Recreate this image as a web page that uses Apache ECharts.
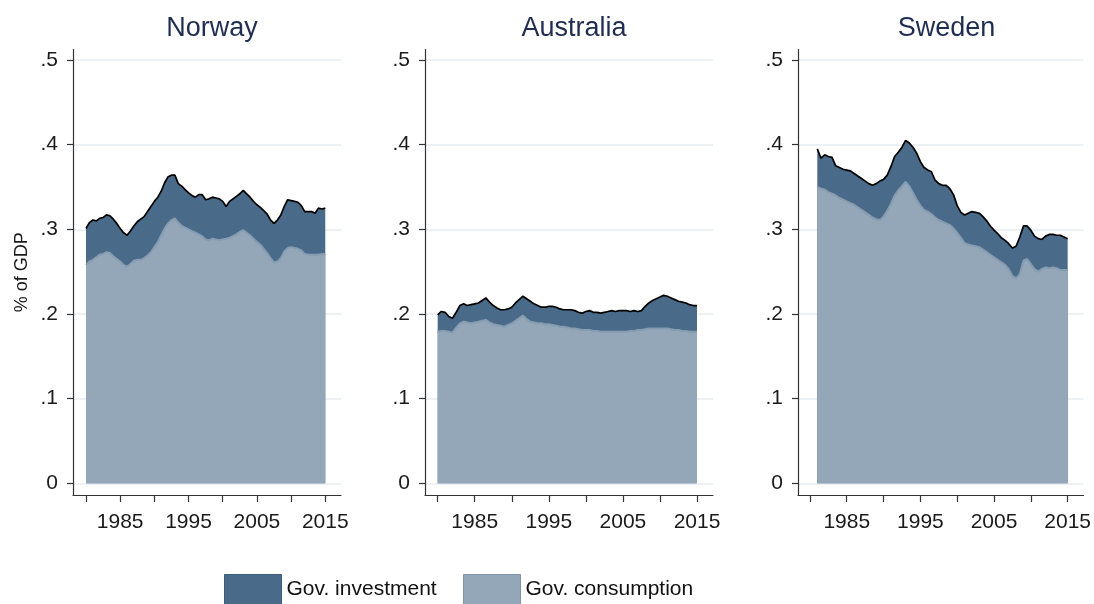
<!DOCTYPE html>
<html>
<head>
<meta charset="utf-8">
<script src="https://cdn.jsdelivr.net/npm/echarts@6/dist/echarts.min.js"></script>
<style>
html,body{margin:0;padding:0;background:#fff}
#main{width:1094px;height:604px}
</style>
</head>
<body>
<div id="main"></div>
<script>
// tick values
var tickYears = [1980, 1985, 1990, 1995, 2000, 2005, 2010, 2015];
var labelYears = [1985, 1995, 2005, 2015];
var yTicks = [0, 0.1, 0.2, 0.3, 0.4, 0.5];

// half-year observation points
var years1980 = [1980,1980.5,1981,1981.5,1982,1982.5,1983,1983.5,1984,1984.5,1985,1985.5,1986,1986.5,1987,1987.5,1988,1988.5,1989,1989.5,1990,1990.5,1991,1991.5,1992,1992.5,1993,1993.5,1994,1994.5,1995,1995.5,1996,1996.5,1997,1997.5,1998,1998.5,1999,1999.5,2000,2000.5,2001,2001.5,2002,2002.5,2003,2003.5,2004,2004.5,2005,2005.5,2006,2006.5,2007,2007.5,2008,2008.5,2009,2009.5,2010,2010.5,2011,2011.5,2012,2012.5,2013,2013.5,2014,2014.5,2015];
var years1981 = [1981,1981.5,1982,1982.5,1983,1983.5,1984,1984.5,1985,1985.5,1986,1986.5,1987,1987.5,1988,1988.5,1989,1989.5,1990,1990.5,1991,1991.5,1992,1992.5,1993,1993.5,1994,1994.5,1995,1995.5,1996,1996.5,1997,1997.5,1998,1998.5,1999,1999.5,2000,2000.5,2001,2001.5,2002,2002.5,2003,2003.5,2004,2004.5,2005,2005.5,2006,2006.5,2007,2007.5,2008,2008.5,2009,2009.5,2010,2010.5,2011,2011.5,2012,2012.5,2013,2013.5,2014,2014.5,2015];

// total spending (consumption + investment), share of GDP
var norwayTotal = [0.301,0.308,0.311,0.310,0.313,0.314,0.317,0.316,0.312,0.307,
  0.301,0.296,0.293,0.298,0.304,0.309,0.312,0.315,0.321,0.327,
  0.333,0.338,0.345,0.355,0.362,0.364,0.364,0.354,0.351,0.347,
  0.343,0.340,0.338,0.341,0.341,0.335,0.336,0.338,0.337,0.336,
  0.333,0.327,0.333,0.336,0.339,0.342,0.346,0.342,0.338,0.333,
  0.329,0.326,0.322,0.318,0.311,0.307,0.311,0.317,0.327,0.335,
  0.334,0.333,0.332,0.328,0.321,0.321,0.321,0.319,0.325,0.324,0.325];
var norwayCons = [0.258,0.262,0.264,0.267,0.270,0.271,0.273,0.272,0.268,0.265,
  0.262,0.258,0.256,0.259,0.263,0.264,0.264,0.266,0.269,0.273,
  0.279,0.285,0.293,0.301,0.307,0.311,0.313,0.308,0.304,0.302,
  0.300,0.298,0.296,0.294,0.292,0.288,0.287,0.289,0.288,0.287,
  0.288,0.289,0.290,0.292,0.294,0.297,0.299,0.296,0.293,0.289,
  0.285,0.282,0.277,0.272,0.266,0.261,0.262,0.266,0.274,0.278,
  0.279,0.278,0.277,0.275,0.271,0.270,0.270,0.270,0.270,0.271,0.271];

var australiaTotal = [0.199,0.203,0.202,0.197,0.195,0.202,0.210,0.212,0.210,0.211,
  0.212,0.213,0.216,0.219,0.214,0.210,0.207,0.205,0.205,0.206,
  0.208,0.213,0.217,0.221,0.218,0.215,0.212,0.210,0.208,0.208,
  0.209,0.209,0.208,0.206,0.205,0.205,0.205,0.204,0.202,0.201,
  0.203,0.204,0.202,0.202,0.201,0.202,0.203,0.204,0.203,0.204,
  0.204,0.204,0.203,0.204,0.203,0.204,0.209,0.213,0.216,0.218,
  0.220,0.222,0.221,0.219,0.217,0.215,0.214,0.213,0.211,0.210,0.210];
var australiaCons = [0.179,0.180,0.180,0.179,0.178,0.184,0.189,0.191,0.190,0.189,
  0.190,0.191,0.192,0.193,0.190,0.188,0.187,0.186,0.185,0.187,
  0.189,0.192,0.195,0.198,0.194,0.191,0.190,0.189,0.189,0.188,
  0.188,0.187,0.186,0.185,0.185,0.184,0.183,0.183,0.182,0.181,
  0.181,0.181,0.180,0.180,0.179,0.179,0.179,0.179,0.179,0.179,
  0.179,0.179,0.180,0.180,0.181,0.181,0.182,0.183,0.183,0.183,
  0.183,0.183,0.183,0.182,0.181,0.181,0.180,0.180,0.179,0.179,0.179];

var swedenTotal = [0.395,0.384,0.388,0.386,0.385,0.375,0.373,0.371,0.370,0.369,
  0.366,0.363,0.360,0.357,0.354,0.352,0.354,0.357,0.359,0.364,
  0.374,0.386,0.391,0.397,0.405,0.402,0.397,0.390,0.380,0.373,
  0.370,0.368,0.358,0.354,0.352,0.352,0.348,0.341,0.328,0.320,
  0.317,0.319,0.321,0.320,0.319,0.315,0.310,0.304,0.299,0.295,
  0.290,0.287,0.283,0.278,0.280,0.291,0.304,0.304,0.299,0.292,
  0.289,0.288,0.292,0.294,0.294,0.293,0.293,0.291,0.289];
var swedenCons = [0.350,0.348,0.347,0.344,0.342,0.340,0.337,0.335,0.333,0.331,
  0.329,0.326,0.323,0.320,0.317,0.314,0.312,0.311,0.315,0.322,
  0.330,0.340,0.346,0.351,0.356,0.351,0.343,0.335,0.328,0.323,
  0.321,0.318,0.314,0.311,0.309,0.307,0.305,0.301,0.296,0.290,
  0.284,0.282,0.281,0.280,0.279,0.276,0.273,0.270,0.267,0.264,
  0.261,0.258,0.253,0.245,0.242,0.247,0.263,0.265,0.259,0.253,
  0.250,0.253,0.255,0.254,0.255,0.254,0.252,0.252,0.252];

var FONT = '"Liberation Sans", Arial, sans-serif';
var INV_COLOR = '#4a6a89';
var CONS_COLOR = '#94a7b8';
var AXIS_COLOR = '#333';

// panel layout (pixels) and x range
var panels = [
  {title: 'Norway', years: years1980, total: norwayTotal, cons: norwayCons, left: 73, right: 341, xMin: 1978.1, xMax: 2017.3},
  {title: 'Australia', years: years1980, total: australiaTotal, cons: australiaCons, left: 425, right: 713, xMin: 1978.29, xMax: 2017.16},
  {title: 'Sweden', years: years1981, total: swedenTotal, cons: swedenCons, left: 798, right: 1085, xMin: 1978.38, xMax: 2017.16}
];

function pairs(xs, ys) {
  var out = [];
  for (var i = 0; i < xs.length; i++) {
    out.push([xs[i], ys[i]]);
  }
  return out;
}

var option = {
  animation: false,
  backgroundColor: '#fff',
  textStyle: {fontFamily: FONT},
  title: [],
  grid: [],
  xAxis: [],
  yAxis: [],
  series: [],
  legend: [
    {
      left: 224, top: 574, padding: 0,
      itemWidth: 57, itemHeight: 30,
      selectedMode: false,
      textStyle: {fontSize: 21, color: '#111', fontFamily: FONT, padding: [0, 0, 6, 0]},
      data: [{name: 'Gov. investment', icon: 'rect', itemStyle: {color: INV_COLOR, borderColor: '#3e5b78', borderWidth: 1}}]
    },
    {
      left: 463, top: 574, padding: 0,
      itemWidth: 57, itemHeight: 30,
      selectedMode: false,
      textStyle: {fontSize: 21, color: '#111', fontFamily: FONT, padding: [0, 0, 6, 0]},
      data: [{name: 'Gov. consumption', icon: 'rect', itemStyle: {color: CONS_COLOR, borderColor: '#7d93a8', borderWidth: 1}}]
    }
  ]
};

panels.forEach(function (p, i) {
  option.title.push({
    text: p.title,
    left: (p.left + p.right) / 2,
    textAlign: 'center',
    top: 10,
    textStyle: {fontSize: 27, fontWeight: 'normal', color: '#1f2d50', fontFamily: FONT}
  });

  option.grid.push({
    left: p.left,
    width: p.right - p.left,
    top: 49.6,
    height: 495 - 49.6
  });

  option.xAxis.push({
    type: 'value',
    gridIndex: i,
    min: p.xMin,
    max: p.xMax,
    axisLine: {show: true, onZero: false, lineStyle: {color: AXIS_COLOR, width: 1.2}},
    axisTick: {show: true, length: 7, customValues: tickYears, lineStyle: {color: AXIS_COLOR, width: 1.2}},
    axisLabel: {
      customValues: labelYears, fontSize: 21, color: '#1a1a1a', margin: 17,
      formatter: function (v) { return String(Math.round(v)); }
    },
    splitLine: {show: false}
  });

  option.yAxis.push({
    type: 'value',
    gridIndex: i,
    min: -0.0138,
    max: 0.5123,
    name: i === 0 ? '% of GDP' : '',
    nameLocation: 'middle',
    nameGap: 42,
    nameTextStyle: {fontSize: 18, color: '#1a1a1a', fontFamily: FONT},
    axisLine: {show: true, onZero: false, lineStyle: {color: AXIS_COLOR, width: 1.2}},
    axisTick: {show: true, length: 6, customValues: yTicks, lineStyle: {color: AXIS_COLOR, width: 1.2}},
    axisLabel: {
      customValues: yTicks, fontSize: 21, color: '#1a1a1a', margin: 15,
      formatter: function (v) {
        if (Math.abs(v) < 1e-9) return '0';
        return v.toFixed(1).replace(/^0/, '');
      }
    },
    splitLine: {show: true, lineStyle: {color: '#e4edf1', width: 1.5}}
  });

  option.series.push({
    type: 'line',
    name: 'Gov. investment',
    xAxisIndex: i,
    yAxisIndex: i,
    data: pairs(p.years, p.total),
    symbol: 'none',
    showSymbol: false,
    itemStyle: {color: INV_COLOR},
    lineStyle: {color: '#000', width: 1.7},
    areaStyle: {color: INV_COLOR, opacity: 1},
    z: 2
  });

  option.series.push({
    type: 'line',
    name: 'Gov. consumption',
    xAxisIndex: i,
    yAxisIndex: i,
    data: pairs(p.years, p.cons),
    symbol: 'none',
    showSymbol: false,
    itemStyle: {color: CONS_COLOR},
    lineStyle: {color: '#869cb0', width: 2},
    areaStyle: {color: CONS_COLOR, opacity: 1},
    z: 3
  });
});

var chart = echarts.init(document.getElementById('main'), null, {renderer: 'canvas'});
chart.setOption(option);
</script>
</body>
</html>
